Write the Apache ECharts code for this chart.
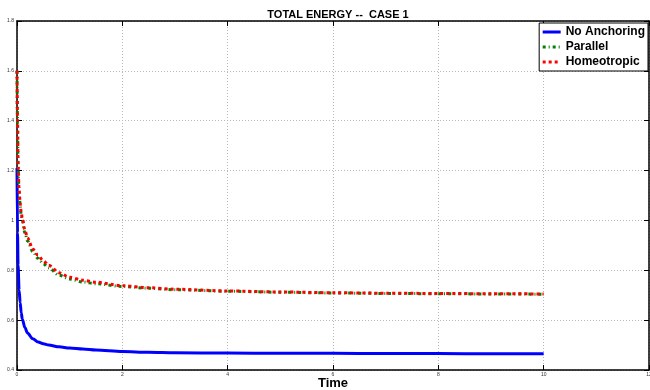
<!DOCTYPE html>
<html>
<head>
<meta charset="utf-8">
<script src="https://cdn.jsdelivr.net/npm/echarts@6/dist/echarts.min.js"></script>
<style>
  html, body { margin: 0; padding: 0; background: #fff; }
  #chart { width: 650px; height: 390px; }
</style>
</head>
<body>
<div id="chart"></div>
<script>
  // time samples (dense near 0 where the energy drops fast)
  const timePts = [0, 0.01, 0.02, 0.04, 0.06, 0.08, 0.1, 0.15, 0.2, 0.3, 0.4, 0.5, 0.6, 0.8,
    1, 1.25, 1.5, 2, 2.5, 3, 4, 5, 6, 7, 8, 9, 10];

  const noAnchoring = [1.21, 0.95, 0.82, 0.72, 0.67, 0.63, 0.605, 0.57, 0.548, 0.525, 0.512, 0.505, 0.5, 0.493,
    0.488, 0.484, 0.48, 0.474, 0.471, 0.469, 0.468, 0.467, 0.467, 0.466, 0.466, 0.465, 0.465];
  const parallel = [1.6, 1.39, 1.21, 1.11, 1.06, 1.02, 1.0, 0.95, 0.918, 0.875, 0.848, 0.826, 0.81, 0.78,
    0.765, 0.753, 0.746, 0.735, 0.728, 0.722, 0.716, 0.712, 0.709, 0.707, 0.706, 0.705, 0.704];
  const homeotropic = [1.6, 1.4, 1.22, 1.12, 1.07, 1.03, 1.01, 0.96, 0.93, 0.885, 0.86, 0.838, 0.82, 0.79,
    0.772, 0.76, 0.752, 0.738, 0.73, 0.724, 0.717, 0.713, 0.71, 0.708, 0.707, 0.706, 0.705];

  const seriesNames = ['No Anchoring', 'Parallel', 'Homeotropic'];
  const xTicks = [0, 2, 4, 6, 8, 10, 12];
  const yTicks = [0.4, 0.6, 0.8, 1, 1.2, 1.4, 1.6, 1.8];

  const pairs = vals => timePts.map((t, i) => [t, vals[i]]);

  const chart = echarts.init(document.getElementById('chart'));

  const fontFam = '"Liberation Sans", Arial, sans-serif';
  const gridLine = { show: true, lineStyle: { color: '#b8b8b8', type: [1, 2], width: 1 } };
  const tick = { show: true, inside: true, length: 5, lineStyle: { color: '#000', width: 1 } };
  const frame = { show: true, onZero: false, lineStyle: { color: '#000', width: 1.5 } };

  chart.setOption({
    animation: false,
    title: {
      text: 'TOTAL ENERGY --  CASE 1',
      left: 333, top: 4, textAlign: 'center',
      textStyle: { fontFamily: fontFam, fontSize: 11, fontWeight: 'bold', color: '#000' }
    },
    // x axis title
    graphic: [{
      type: 'text', x: 333, y: 383,
      style: { text: 'Time', textAlign: 'center', textVerticalAlign: 'middle',
        font: 'bold 13px "Liberation Sans", Arial, sans-serif', fill: '#000' }
    }],
    legend: {
      data: seriesNames,
      orient: 'vertical',
      right: 2, top: 23,
      backgroundColor: '#fff',
      borderColor: '#000', borderWidth: 1, borderRadius: 0,
      padding: [3, 3, 3, 2],
      itemWidth: 18, itemHeight: 14, itemGap: 3,
      itemStyle: { opacity: 0 },
      lineStyle: { width: 3 },
      textStyle: { fontFamily: fontFam, fontSize: 12, fontWeight: 'bold', color: '#000' }
    },
    grid: { left: 17, right: 1, top: 21, bottom: 20, containLabel: false, outerBoundsMode: 'none' },
    xAxis: [{
      type: 'value', min: 0, max: 12, interval: 2,
      axisLine: frame, axisTick: tick, splitLine: gridLine,
      axisLabel: { fontSize: 5, color: '#333', margin: 2, fontFamily: fontFam,
        formatter: v => xTicks.includes(v) ? String(v) : '' }
    }, {
      type: 'value', min: 0, max: 12, interval: 2, position: 'top',
      axisLine: frame, axisTick: tick, splitLine: { show: false }, axisLabel: { show: false }
    }],
    yAxis: [{
      type: 'value', min: 0.4, max: 1.8, interval: 0.2,
      axisLine: frame, axisTick: tick, splitLine: gridLine,
      axisLabel: { fontSize: 5, color: '#333', margin: 3, fontFamily: fontFam,
        formatter: v => { const r = Math.round(v * 10) / 10; return yTicks.includes(r) ? String(r) : ''; } }
    }, {
      type: 'value', min: 0.4, max: 1.8, interval: 0.2, position: 'right',
      axisLine: frame, axisTick: tick, splitLine: { show: false }, axisLabel: { show: false }
    }],
    series: [{
      name: seriesNames[0], type: 'line', data: pairs(noAnchoring),
      showSymbol: false, symbol: 'none', smooth: 0.3, smoothMonotone: 'x',
      lineStyle: { color: '#0000ff', width: 3, type: 'solid' },
      itemStyle: { color: '#0000ff' }
    }, {
      name: seriesNames[1], type: 'line', data: pairs(parallel),
      showSymbol: false, symbol: 'none', smooth: 0.3, smoothMonotone: 'x',
      lineStyle: { color: '#008000', width: 3, type: [3, 3, 1, 3] },
      itemStyle: { color: '#008000' }
    }, {
      name: seriesNames[2], type: 'line', data: pairs(homeotropic),
      showSymbol: false, symbol: 'none', smooth: 0.3, smoothMonotone: 'x',
      lineStyle: { color: '#ff0000', width: 3, type: [3, 3] },
      itemStyle: { color: '#ff0000' }
    }]
  });
</script>
</body>
</html>
